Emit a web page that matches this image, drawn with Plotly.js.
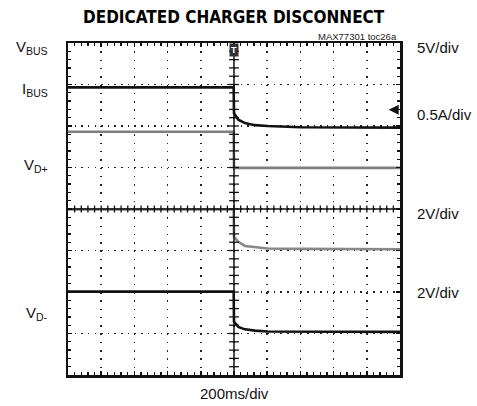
<!DOCTYPE html>
<html>
<head>
<meta charset="utf-8">
<script src="https://cdn.plot.ly/plotly-3.0.1.min.js"></script>
<style>html,body{margin:0;padding:0;background:#fff;}#chart{width:477px;height:406px;}</style>
</head>
<body>
<div id="chart"></div>
<script>
// time axis in divisions (200ms/div), trigger at division 5; vertical in screen divisions (0 = bottom)
var vbusX = [0, 4.99, 5.0, 5.13, 5.33, 5.63, 6.02, 7.0, 10];
var vbusY = [6.93, 6.93, 6.31, 6.15, 6.07, 6.02, 6.0, 5.97, 5.96];
var ibusX = [0, 4.99, 5.0, 10];
var ibusY = [5.86, 5.86, 4.99, 4.99];
var vdpX = [0, 4.99, 5.0, 5.13, 5.33, 5.63, 6.02, 7.0, 10];
var vdpY = [3.99, 3.99, 3.33, 3.21, 3.11, 3.08, 3.05, 3.04, 3.03];
var vdmX = [0, 4.99, 5.0, 5.13, 5.33, 5.63, 6.02, 7.0, 10];
var vdmY = [2.01, 2.01, 1.28, 1.16, 1.10, 1.07, 1.05, 1.045, 1.04];
var traceNames = ['VBUS', 'IBUS', 'VD+', 'VD-'];
var traceColors = ['#111111', '#7f7f7f', '#888888', '#111111'];
var leftLabels = ['V<sub>BUS</sub>', 'I<sub>BUS</sub>', 'V<sub>D+</sub>', 'V<sub>D-</sub>'];
var leftLabelY = [7.88, 6.87, 5.05, 1.49];
var rightLabels = ['5V/div', '0.5A/div', '2V/div', '2V/div'];
var rightLabelY = [7.88, 6.28, 3.9, 2.0];
var chartTitle = 'DEDICATED CHARGER DISCONNECT';
var timeLabel = '200ms/div';
var partLabel = 'MAX77301 toc26a';

var xs = [vbusX, ibusX, vdpX, vdmX];
var ys = [vbusY, ibusY, vdpY, vdmY];
var data = [];
for (var i = 0; i < 4; i++) {
  data.push({x: xs[i], y: ys[i], name: traceNames[i], type: 'scatter', mode: 'lines',
    line: {color: traceColors[i], width: 2.6}, hoverinfo: 'skip'});
}
// graticule tick marks on the vertical centre line
var cTickY = [];
for (var m = 1; m < 40; m++) { cTickY.push(m * 0.2); }
var cTickX = cTickY.map(function(){ return 5; });
data.push({x: cTickX, y: cTickY, type: 'scatter', mode: 'markers', hoverinfo: 'skip', showlegend: false,
  marker: {symbol: 'line-ew', size: 7, color: '#111', line: {width: 1.3, color: '#111'}}});

var shapes = [
  {type: 'line', xref: 'x', yref: 'y', x0: 5, x1: 5, y0: 0, y1: 8, line: {color: '#111', width: 1.5}},
  {type: 'line', xref: 'x', yref: 'y', x0: 0, x1: 10, y0: 4, y1: 4, line: {color: '#111', width: 1.5}}
];
for (var k = 1; k < 50; k++) {
  shapes.push({type: 'line', xref: 'x', yref: 'y', ysizemode: 'pixel', yanchor: 4,
    x0: k * 0.2, x1: k * 0.2, y0: -3.5, y1: 3.5, line: {color: '#111', width: 1.3}});
}

var lblFont = {family: 'Liberation Sans Narrow, Arial Narrow, sans-serif', size: 15, color: '#111'};
var annotations = [];
for (var j = 0; j < 4; j++) {
  annotations.push({xref: 'paper', yref: 'y', x: -0.055, y: leftLabelY[j], xanchor: 'right', yanchor: 'middle',
    text: leftLabels[j], showarrow: false, font: lblFont});
  annotations.push({xref: 'paper', yref: 'y', x: 1.045, y: rightLabelY[j], xanchor: 'left', yanchor: 'middle',
    text: rightLabels[j], showarrow: false, font: lblFont});
}
annotations.push({xref: 'paper', yref: 'paper', x: 0.5, y: -0.024, xanchor: 'center', yanchor: 'top',
  text: timeLabel, showarrow: false, font: lblFont});
annotations.push({xref: 'paper', yref: 'paper', x: 0.997, y: 1.021, xanchor: 'right', yanchor: 'middle',
  text: partLabel, showarrow: false,
  font: {family: 'Liberation Sans Narrow, Arial Narrow, sans-serif', size: 9.5, color: '#222'}});
annotations.push({xref: 'paper', yref: 'paper', x: 0.5, y: 1.078, xanchor: 'center', yanchor: 'middle',
  text: '<b>' + chartTitle + '</b>', showarrow: false,
  font: {family: 'DejaVu Sans Condensed, DejaVu Sans, sans-serif', size: 17, color: '#000'}});
annotations.push({xref: 'x', yref: 'y', x: 5, y: 8, xanchor: 'center', yanchor: 'top',
  text: '<b>T</b>', showarrow: false, bgcolor: '#333', borderpad: 1,
  font: {family: 'Liberation Sans Narrow, sans-serif', size: 9, color: '#fff'}});
annotations.push({xref: 'x', yref: 'y', x: 9.66, y: 6.39, ax: 10, ay: 0,
  text: '', showarrow: true, arrowhead: 2, arrowsize: 1, arrowwidth: 2, arrowcolor: '#111'});

var axBase = {
  showgrid: true, gridcolor: '#222', gridwidth: 1.5,
  showticklabels: false, ticks: 'inside', ticklen: 4, tickwidth: 1.5, tickcolor: '#111',
  showline: true, linewidth: 2.5, linecolor: '#111', mirror: 'ticks', zeroline: false, fixedrange: true
};
var xaxis = Object.assign({}, axBase, {range: [0, 10], dtick: 1, tick0: 0, griddash: '1.5px,6.8px',
  minor: {dtick: 0.2, tick0: 0, ticks: 'inside', ticklen: 3, tickwidth: 1.3, tickcolor: '#111', showgrid: false}});
var yaxis = Object.assign({}, axBase, {range: [0, 8], dtick: 1, tick0: 0, griddash: '1.5px,5.14px',
  minor: {dtick: 0.2, tick0: 0, ticks: 'inside', ticklen: 3, tickwidth: 1.3, tickcolor: '#111', showgrid: false}});

var layout = {
  width: 477, height: 406,
  margin: {l: 68, r: 77, t: 43, b: 31},
  paper_bgcolor: '#fff', plot_bgcolor: '#fff',
  showlegend: false,
  xaxis: xaxis, yaxis: yaxis,
  shapes: shapes, annotations: annotations
};
Plotly.newPlot('chart', data, layout, {staticPlot: true, displayModeBar: false});
</script>
</body>
</html>
